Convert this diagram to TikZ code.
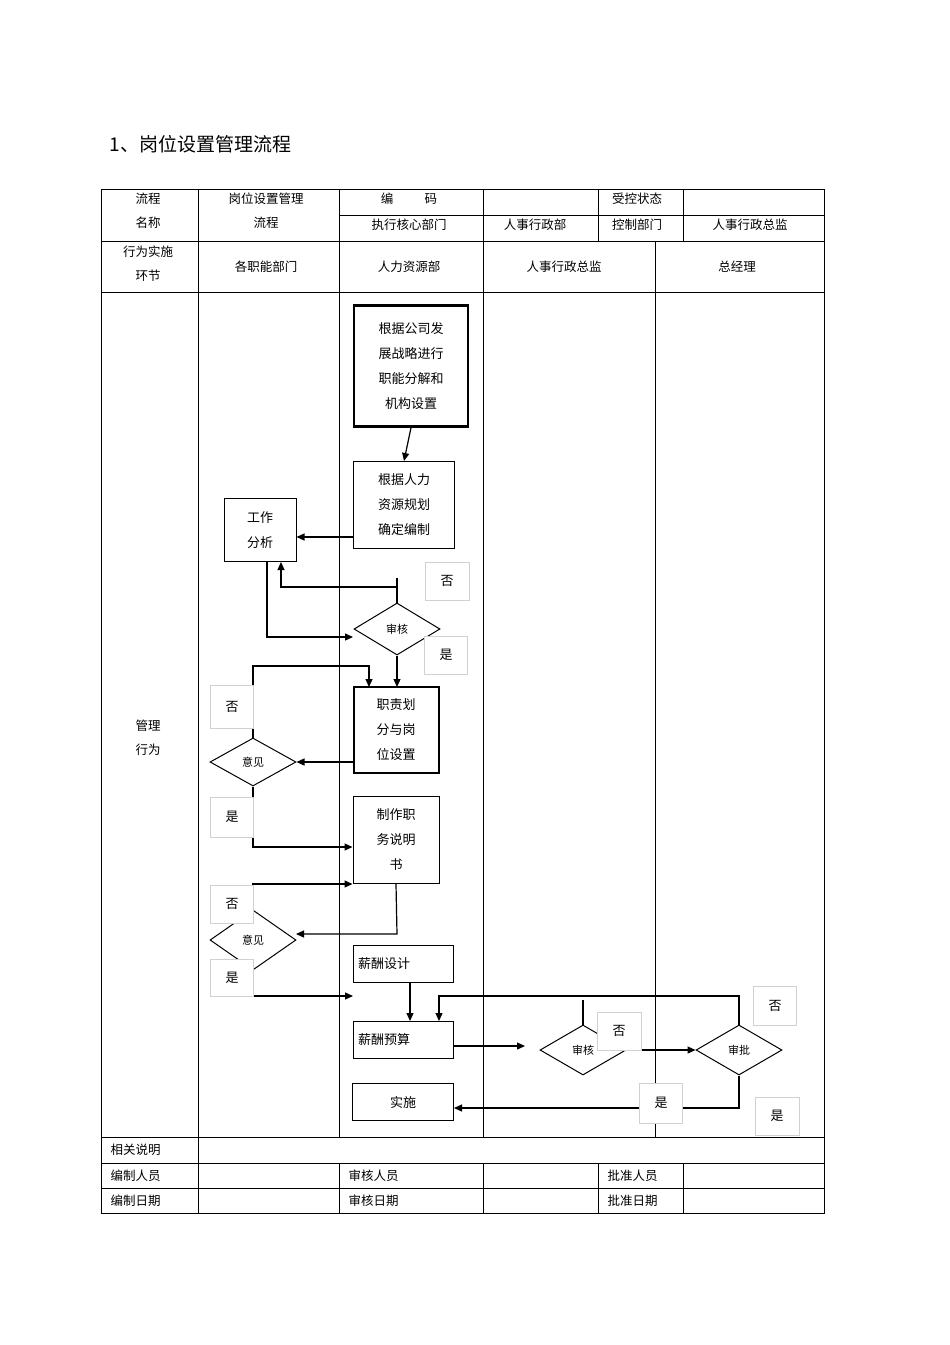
\documentclass[tikz,border=0pt]{standalone}
\usepackage{fontspec}
\setmainfont{Liberation Serif}
\newfontfamily\cjk{Noto Sans CJK SC}
\usetikzlibrary{shapes.geometric,arrows.meta}
\begin{document}
\begin{tikzpicture}[x=1pt,y=-1pt,font=\cjk\fontsize{13}{25}\selectfont,
  tl/.style={line width=0.8pt},
  proc/.style={draw,line width=1pt,align=center,inner sep=0pt},
  thick proc/.style={proc,line width=2.5pt},
  dec/.style={draw,diamond,line width=1pt,aspect=1.7,inner sep=0pt,font=\cjk\fontsize{11}{12}\selectfont},
  lab/.style={draw=black!18,fill=white,line width=0.8pt,inner sep=0pt},
  arr/.style={line width=1.2pt,-{Triangle[length=8pt,width=7pt]}},
  ln/.style={line width=1.2pt},
  hd/.style={font=\cjk\fontsize{12.5}{24}\selectfont,align=center}]
\useasboundingbox (0,0) rectangle (950,1345);
% title
\node[anchor=west,font=\cjk\fontsize{19}{22}\selectfont] (title) at (106,144) {1、岗位设置管理流程};
% table
\draw[tl] (101,189) rectangle (824,1213);
\foreach \y in {241,292,1137,1163,1188} \draw[tl] (101,\y) -- (824,\y);
\draw[tl] (339,215) -- (824,215);
\draw[tl] (198,189) -- (198,1213);
\draw[tl] (339,189) -- (339,1137);
\draw[tl] (483,189) -- (483,1137);
\draw[tl] (598,189) -- (598,241);
\draw[tl] (683,189) -- (683,241);
\draw[tl] (655,241) -- (655,1137);
\foreach \x in {339,483,598,683} \draw[tl] (\x,1163) -- (\x,1213);
\node[hd] (h1) at (148,211) {流程\\名称};
\node[hd] (h2) at (266,211) {岗位设置管理\\流程};
\node[hd] (h3) at (409,199) {编\hspace{2.5em}码};
\node[hd] (h4) at (409,225) {执行核心部门};
\node[hd] (h5) at (637,199) {受控状态};
\node[hd] (h6) at (535,225) {人事行政部};
\node[hd] (h7) at (637,225) {控制部门};
\node[hd] (h8) at (750,225) {人事行政总监};
\node[hd] (h9) at (148,264) {行为实施\\环节};
\node[hd] (h10) at (266,267) {各职能部门};
\node[hd] (h11) at (409,267) {人力资源部};
\node[hd] (h12) at (564,267) {人事行政总监};
\node[hd] (h13) at (737,267) {总经理};
\node[hd] (h14) at (148,738) {管理\\行为};
\node[hd,anchor=west] (f1) at (107,1150) {相关说明};
\node[hd,anchor=west] (f2) at (107,1176) {编制人员};
\node[hd,anchor=west] (f3) at (345,1176) {审核人员};
\node[hd,anchor=west] (f4) at (604,1176) {批准人员};
\node[hd,anchor=west] (f5) at (107,1201) {编制日期};
\node[hd,anchor=west] (f6) at (345,1201) {审核日期};
\node[hd,anchor=west] (f7) at (604,1201) {批准日期};
% nodes
\node[thick proc,minimum width=114pt,minimum height=121pt] (A) at (411,366) {根据公司发\\展战略进行\\职能分解和\\机构设置};
\node[proc,minimum width=101pt,minimum height=87pt] (B) at (404,505) {根据人力\\资源规划\\确定编制};
\node[proc,minimum width=72pt,minimum height=63pt] (C) at (260,530) {工作\\分析};
\node[dec,minimum width=86pt,minimum height=52pt] (D) at (397,629) {审核};
\node[proc,line width=2pt,minimum width=85pt,minimum height=86pt] (E) at (396,730) {职责划\\分与岗\\位设置};
\node[dec,minimum width=86pt,minimum height=48pt] (F) at (253,762) {意见};
\node[proc,minimum width=86pt,minimum height=87pt] (G) at (396,840) {制作职\\务说明\\书};
\node[dec,minimum width=86pt,minimum height=60pt] (H) at (253,940) {意见};
\node[proc,minimum width=100pt,minimum height=37pt,text width=90pt,align=left] (I) at (403,964) {薪酬设计};
\node[proc,minimum width=100pt,minimum height=37pt,text width=90pt,align=left] (J) at (403,1040) {薪酬预算};
\node[proc,minimum width=101pt,minimum height=37pt] (K) at (403,1102) {实施};
\node[dec,minimum width=86pt,minimum height=50pt] (L) at (583,1050) {审核};
\node[dec,minimum width=86pt,minimum height=50pt] (M) at (739,1050) {审批};
\coordinate (Jend) at (525,1046);
\coordinate (Ltop) at (583,1000);
% connectors
\draw[arr] (A.south) -- (B.north);
\draw[arr] (B.west |- 0,537) -- (C.east |- 0,537);
\draw[ln] (397,578) -- (D.north);
\draw[arr] (397,587) -- (281,587) -- (281,562);
\draw[arr] (267,562) -- (267,637) -- (353,637);
\draw[arr] (D.south) -- (397,687);
\draw[arr] (F.north) -- (253,666) -- (369,666) -- (369,687);
\draw[arr] (E.west |- F.east) -- (F.east);
\draw[arr] (F.south) -- (253,847) -- (G.west |- 0,847);
\draw[arr] (G.south) -- (397,934) -- (296,934);
\draw[arr] (H.north) -- (253,884) -- (G.west |- 0,884);
\draw[arr] (H.south) -- (253,996) -- (353,996);
\draw[arr] (410,983) -- (410,1021);
\draw[arr] (M.north) -- (739,996) -- (439,996) -- (439,1021);
\draw[ln] (L.north) -- (Ltop);
\draw[arr] (J.east |- Jend) -- (Jend);
\draw[arr] (L.east) -- (M.west);
\draw[arr] (M.south) -- (739,1108) -- (K.east |- 0,1108);
% yes/no labels
\node[lab,minimum width=44pt,minimum height=38pt] (l1) at (447,581) {否};
\node[lab,minimum width=43pt,minimum height=38pt] (l2) at (446,655) {是};
\node[lab,minimum width=43pt,minimum height=43pt] (l3) at (232,707) {否};
\node[lab,minimum width=43pt,minimum height=40pt] (l4) at (232,817) {是};
\node[lab,minimum width=43pt,minimum height=38pt] (l5) at (232,904) {否};
\node[lab,minimum width=43pt,minimum height=37pt] (l6) at (232,978) {是};
\node[lab,minimum width=44pt,minimum height=38pt] (l7) at (619,1031) {否};
\node[lab,minimum width=43pt,minimum height=39pt] (l8) at (775,1006) {否};
\node[lab,minimum width=43pt,minimum height=40pt] (l9) at (661,1103) {是};
\node[lab,minimum width=44pt,minimum height=38pt] (l10) at (777,1116) {是};
\end{tikzpicture}
\end{document}
